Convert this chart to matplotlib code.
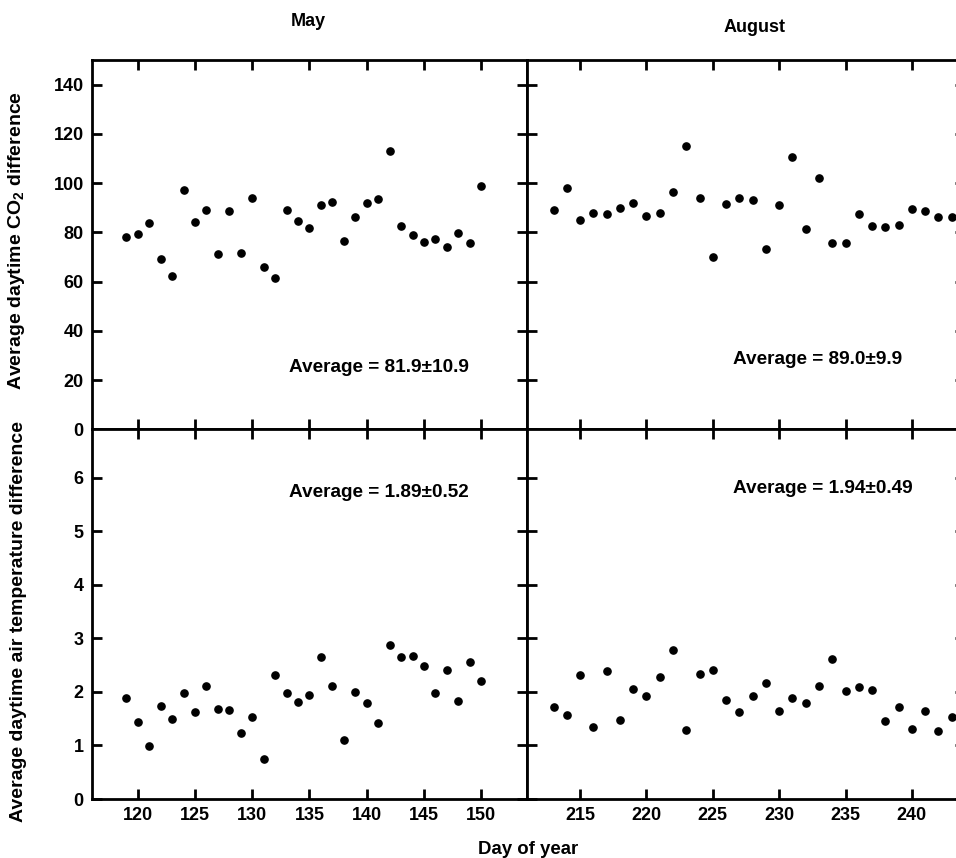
import numpy as np
import matplotlib
matplotlib.use('Agg')
import matplotlib.pyplot as plt

plt.rcParams['font.family'] = ['Liberation Sans', 'DejaVu Sans']
plt.rcParams['font.weight'] = 'bold'
plt.rcParams['mathtext.fontset'] = 'custom'
plt.rcParams['mathtext.rm'] = 'Liberation Sans:bold'
plt.rcParams['mathtext.bf'] = 'Liberation Sans:bold'

# 日付（通日）
may_days = list(range(119, 151))
aug_days = list(range(213, 244))

# CO2差（日中平均）
may_co2 = [78.3, 79.3, 83.8, 69.2, 62.2, 97.4, 84.3, 89.2, 71.4, 88.5, 71.8,
           93.8, 66.1, 61.5, 88.9, 84.7, 81.9, 91.1, 92.5, 76.5, 86.2, 91.8,
           93.5, 113.0, 82.6, 78.8, 76.2, 77.2, 73.9, 79.9, 75.8, 98.9]
aug_co2 = [89.2, 98.1, 85.2, 87.8, 87.6, 90.0, 92.0, 86.6, 88.0, 96.2, 115.0,
           93.9, 70.0, 91.6, 93.8, 93.2, 73.4, 91.1, 110.5, 81.3, 102.0, 75.8,
           75.7, 87.4, 82.7, 82.3, 83.0, 89.3, 88.8, 86.3, 86.3]

# 気温差（日中平均）
may_temp = [1.89, 1.44, 0.99, 1.74, 1.50, 1.97, 1.63, 2.10, 1.68, 1.67, 1.23,
            1.53, 0.74, 2.31, 1.97, 1.81, 1.95, 2.65, 2.11, 1.10, 1.99, 1.79,
            1.41, 2.88, 2.65, 2.67, 2.48, 1.98, 2.40, 1.83, 2.56, 2.21]
aug_temp = [1.71, 1.56, 2.32, 1.34, 2.38, 1.47, 2.06, 1.93, 2.27, 2.79, 1.28,
            2.33, 2.40, 1.84, 1.62, 1.92, 2.16, 1.65, 1.89, 1.80, 2.10, 2.61,
            2.01, 2.09, 2.03, 1.46, 1.72, 1.31, 1.65, 1.26, 1.53]

avg_text = {'may_co2': 'Average = 81.9\u00b110.9',
            'aug_co2': 'Average = 89.0\u00b19.9',
            'may_temp': 'Average = 1.89\u00b10.52',
            'aug_temp': 'Average = 1.94\u00b10.49'}

W, H = 956, 858
fig = plt.figure(figsize=(W / 100, H / 100), dpi=100)

# パネル配置（ピクセル → 図座標）
lx, rx = 92, 527
pw_l, pw_r = 435, 438
top_y0, mid_y, bot_y = 60, 429.3, 799
ph = mid_y - top_y0

ax_tl = fig.add_axes([lx / W, (H - mid_y) / H, pw_l / W, ph / H])
ax_tr = fig.add_axes([rx / W, (H - mid_y) / H, pw_r / W, ph / H])
ax_bl = fig.add_axes([lx / W, (H - bot_y) / H, pw_l / W, (bot_y - mid_y) / H])
ax_br = fig.add_axes([rx / W, (H - bot_y) / H, pw_r / W, (bot_y - mid_y) / H])

ax_tl.plot(may_days, may_co2, 'o', color='black', markersize=5.2)
ax_tr.plot(aug_days, aug_co2, 'o', color='black', markersize=5.2)
ax_bl.plot(may_days, may_temp, 'o', color='black', markersize=5.2)
ax_br.plot(aug_days, aug_temp, 'o', color='black', markersize=5.2)

for ax in [ax_tl, ax_bl]:
    ax.set_xlim(116, 154)
    ax.set_xticks(np.arange(120, 151, 5))
for ax in [ax_tr, ax_br]:
    ax.set_xlim(211, 244)
    ax.set_xticks(np.arange(215, 241, 5))
for ax in [ax_tl, ax_tr]:
    ax.set_ylim(0, 150)
    ax.set_yticks(np.arange(0, 141, 20))
    ax.tick_params(labelbottom=False)
for ax in [ax_bl, ax_br]:
    ax.set_ylim(0, 6.9)
    ax.set_yticks(np.arange(0, 7, 1))
for ax in [ax_tr, ax_br]:
    ax.tick_params(labelleft=False)

for ax in [ax_tl, ax_tr, ax_bl, ax_br]:
    ax.tick_params(direction='in', length=7, width=2, labelsize=13, pad=6,
                   top=True, right=True)
    for sp in ax.spines.values():
        sp.set_linewidth(2)
    for lab in ax.get_xticklabels() + ax.get_yticklabels():
        lab.set_fontweight('bold')

# 平均値の注記
ax_tl.text(0.453, 0.166, avg_text['may_co2'], transform=ax_tl.transAxes,
           fontsize=13.7, fontweight='bold', va='center')
ax_tr.text(0.470, 0.190, avg_text['aug_co2'], transform=ax_tr.transAxes,
           fontsize=13.7, fontweight='bold', va='center')
ax_bl.text(0.453, 0.828, avg_text['may_temp'], transform=ax_bl.transAxes,
           fontsize=13.7, fontweight='bold', va='center')
ax_br.text(0.470, 0.840, avg_text['aug_temp'], transform=ax_br.transAxes,
           fontsize=13.7, fontweight='bold', va='center')

# 軸ラベル
ax_tl.set_ylabel('Average daytime CO$_\\mathbf{2}$ difference', fontsize=14,
                 fontweight='bold')
ax_tl.yaxis.set_label_coords(-0.149, 0.51)
ax_bl.set_ylabel('Average daytime air temperature difference', fontsize=14,
                 fontweight='bold')
ax_bl.yaxis.set_label_coords(-0.149, 0.48)

fig.text(528 / W, 1 - 850 / H, 'Day of year', fontsize=13.4, fontweight='bold',
         ha='center', va='center')
fig.text(308 / W, 1 - 22 / H, 'May', fontsize=13, fontweight='bold',
         ha='center', va='center')
fig.text(755 / W, 1 - 27 / H, 'August', fontsize=13, fontweight='bold',
         ha='center', va='center')

fig.savefig('out.png', dpi=100)
